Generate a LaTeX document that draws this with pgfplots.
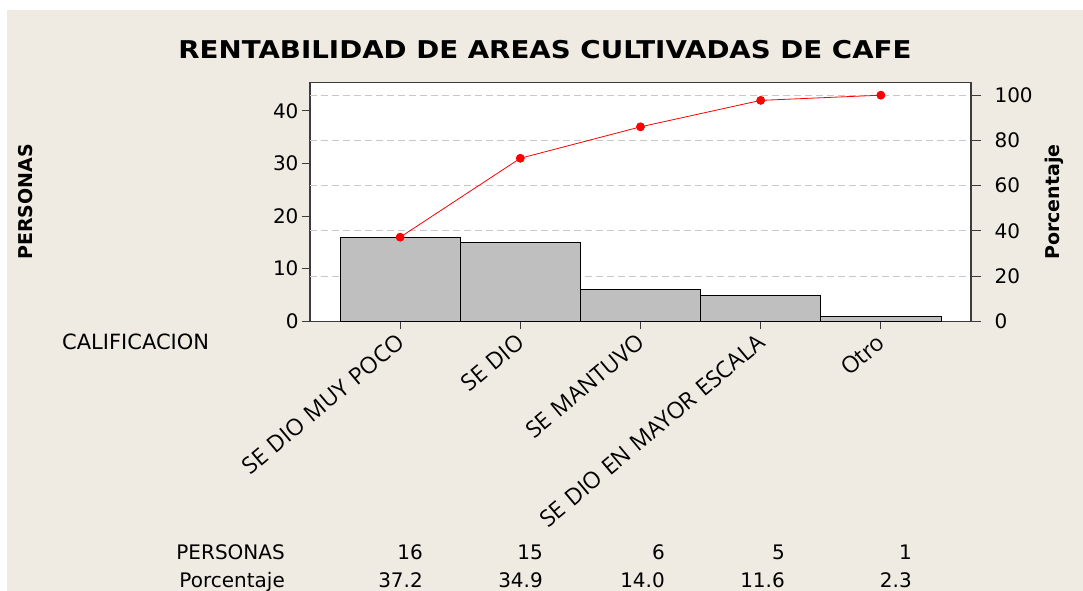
\documentclass[border=0pt]{standalone}
\usepackage{fontspec}
\setmainfont{DejaVu Sans}
\newfontfamily\labfont[WordSpace=1.2]{Open Sans}
\usepackage{pgfplots}
\usepackage{pgfplotstable}
\pgfplotsset{compat=1.18}

\definecolor{bgbeige}{RGB}{240,235,226}
\definecolor{bargray}{RGB}{191,191,191}
\definecolor{gridgray}{RGB}{200,200,200}
\definecolor{framegray}{RGB}{60,60,60}

% Pareto data: count, percent, cumulative percent
\pgfplotstableread[col sep=comma]{
x,n,pct,cum,label
0,16,37.2,37.2,SE DIO MUY POCO
1,15,34.9,72.1,SE DIO
2,6,14.0,86.0,SE MANTUVO
3,5,11.6,97.7,SE DIO EN MAYOR ESCALA
4,1,2.3,100.0,Otro
}\paretotable

\begin{document}
\begin{tikzpicture}[x=1bp, y=1bp]
% page and background
\path[use as bounding box, fill=white] (-310,-269.7) rectangle (773,321.3);
\fill[bgbeige] (-303,-269.7) rectangle (773,311.3);

\pgfplotsset{
    paretobase/.style={
        at={(0,0)}, anchor=south west,
        scale only axis, width=661bp, height=239bp,
        xmin=-0.75, xmax=4.75, ymin=0,
        tick align=outside,
        axis line style={framegray, line width=1.2bp},
        tick style={framegray, line width=1bp},
        yticklabel style={font=\fontsize{20bp}{24bp}\selectfont,
            /pgf/number format/assume math mode=true},
    },
}

% counts (left axis) with bars
\begin{axis}[
    paretobase,
    ymax=45.45,
    xtick={0,1,2,3,4},
    xticklabels from table={\paretotable}{label},
    ytick={0,10,20,30,40},
    ytick pos=left, xtick pos=bottom,
    major tick length=8bp,
    extra y ticks={8.6,17.2,25.8,34.4,43},
    extra y tick labels={},
    extra y tick style={grid=major, major tick length=0pt},
    grid style={gridgray, dash pattern=on 7bp off 4bp, line width=0.8bp},
    axis background/.style={fill=white},
    xticklabel style={font=\labfont\fontsize{23bp}{27bp}\selectfont,
        xshift=-5bp, rotate=40, anchor=north east, inner sep=0pt},
    xticklabel shift=3bp,
]
\addplot[ybar, bar width=1, fill=bargray, draw=black, line width=0.8bp]
    table[x=x, y=n] {\paretotable};
\end{axis}

% cumulative percent (right axis)
\begin{axis}[
    paretobase,
    ymax=105.7,
    axis x line=none, axis y line*=right,
    ytick={0,20,40,60,80,100},
    major tick length=10bp,
    yticklabel shift=10bp,
]
\addplot[red, line width=0.8bp, mark=*, mark size=4bp,
    mark options={fill=red, draw=red}]
    table[x=x, y=cum] {\paretotable};
\end{axis}

% titles and labels
\node[font=\bfseries\fontsize{24.5bp}{28bp}\selectfont] at (235,271.8)
    {\scalebox{1.13}[1]{RENTABILIDAD DE AREAS CULTIVADAS DE CAFE}};
\node[font=\bfseries\fontsize{19bp}{23bp}\selectfont, rotate=90] at (-284,119.3) {PERSONAS};
\node[font=\bfseries\fontsize{19bp}{23bp}\selectfont, rotate=90] at (744,119.3) {Porcentaje};
\node[font=\fontsize{21bp}{25bp}\selectfont, anchor=base west, inner sep=0pt] at (-248,-28.7) {CALIFICACION};

% data table under the chart
\begin{scope}[every node/.style={font=\fontsize{20bp}{24bp}\selectfont, anchor=base east, inner sep=0pt}]
\node at (-25,-238) {PERSONAS};
\node at (-25,-266.2) {Porcentaje};
\foreach \i/\xx in {0/113,1/233,2/355,3/475,4/602} {
    \pgfplotstablegetelem{\i}{n}\of\paretotable
    \node at (\xx,-238) {\pgfplotsretval};
    \pgfplotstablegetelem{\i}{pct}\of\paretotable
    \node at (\xx,-266.2) {\pgfplotsretval};
}
\end{scope}
\end{tikzpicture}
\end{document}
